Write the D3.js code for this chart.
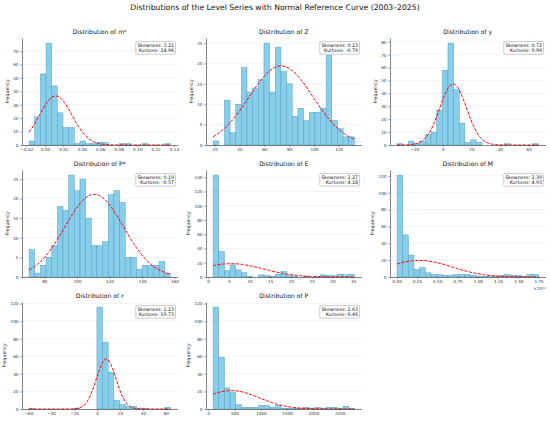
<!DOCTYPE html>
<html>
<head>
<meta charset="utf-8">
<script src="https://cdn.jsdelivr.net/npm/d3@7"></script>
<style>
body { margin: 0; background: #fff; }
text { font-family: "DejaVu Sans", sans-serif; }
</style>
</head>
<body>
<svg id="chart" width="550" height="423"></svg>
<script>
// series shown, in panel order
var seriesNames = ["mᵉ", "Z", "y", "P*", "E", "M", "r", "P"];

// histogram counts (25 bins each)
var countsMe    = [3,21,53,76,44,24,13,13,1,3,1,1,2,2,0,0,1,1,0,0,1,0,0,0,1];
var countsZ     = [1,0,11,3,10,19,13,14,16,25,13,24,18,15,7,9,6,8,8,9,22,6,4,2,2];
var countsY     = [1,0,3,1,3,8,10,27,58,79,43,17,2,4,2,0,0,0,0,1,0,0,0,0,1];
var countsPstar = [7,1,3,5,8,18,17,26,22,25,15,8,8,9,21,22,19,5,5,2,3,3,3,4,1];
var countsE     = [143,36,9,17,10,6,1,0,3,2,1,4,8,2,1,0,1,0,1,3,2,2,4,3,4];
var countsM     = [121,50,26,9,11,5,3,3,2,2,3,3,3,2,1,1,1,1,2,3,2,2,1,3,3];
var countsR     = [1,0,0,0,0,0,0,0,1,0,0,0,116,76,42,10,5,3,3,1,1,0,0,0,2];
var countsP     = [116,59,24,19,5,2,2,2,4,4,2,4,1,1,1,1,2,1,2,1,2,2,1,3,1];

// data min / max of each series (M in units of 1e10)
var dataRange = [[-0.0172, 0.1361], [18.7, 132.6], [-32, 66.8], [70.6, 157.4],
                 [1.2, 35.3], [0.004, 1.748], [-59.2, 64], [91, 2779]];

// normal reference curve: mean, sd, peak height (in counts)
var curveMean = [0.0117, 73.5, 7.2, 110.6, 5.6, 0.28, 8, 440];
var curveSd   = [0.0177, 25.8, 9.3, 18, 7.7, 0.40, 8.5, 530];
var curvePeak = [36.6, 19.4, 47.4, 21.1, 18.7, 19.7, 57.1, 21];

var skewness = ["3.21", "0.23", "0.72", "0.19", "2.27", "2.39", "1.23", "2.63"];
var kurtosis = ["14.96", "-0.79", "9.99", "-0.57", "4.18", "4.93", "19.73", "6.46"];

// tick values
var xTicks = [
  [-0.02, 0, 0.02, 0.04, 0.06, 0.08, 0.10, 0.12, 0.14],
  [20, 40, 60, 80, 100, 120],
  [-20, 0, 20, 40, 60],
  [80, 100, 120, 140, 160],
  [0, 5, 10, 15, 20, 25, 30, 35],
  [0, 0.25, 0.5, 0.75, 1.0, 1.25, 1.5, 1.75],
  [-60, -40, -20, 0, 20, 40, 60],
  [0, 500, 1000, 1500, 2000, 2500]
];
var xTickDecimals = [2, 0, 0, 0, 0, 2, 0, 0];
var yTicks = [
  [0, 10, 20, 30, 40, 50, 60, 70],
  [0, 5, 10, 15, 20, 25],
  [0, 10, 20, 30, 40, 50, 60, 70, 80],
  [0, 5, 10, 15, 20, 25],
  [0, 20, 40, 60, 80, 100, 120, 140],
  [0, 20, 40, 60, 80, 100, 120],
  [0, 20, 40, 60, 80, 100, 120],
  [0, 20, 40, 60, 80, 100, 120]
];
var offsetLabels = ["", "", "", "", "", "×10¹⁰", "", ""];

var allCounts = [countsMe, countsZ, countsY, countsPstar, countsE, countsM, countsR, countsP];

var svg = d3.select("#chart");
var axLeft = [22, 206, 390], axTop = [38, 170, 302];
var axW = 155.5, axH = 107;
var tickFont = 4.2;

svg.append("text")
    .attr("x", 275).attr("y", 9.8)
    .attr("text-anchor", "middle")
    .attr("font-size", 7.7)
    .attr("fill", "#111")
    .text("Distributions of the Level Series with Normal Reference Curve (2003–2025)");

function minusFmt(dec) {
    var f = d3.format("." + dec + "f");
    return function (v) { return f(v).replace("-", "−"); };
}

seriesNames.forEach(function (name, i) {
    var col = i % 3, row = Math.floor(i / 3);
    var counts = allCounts[i];
    var lo = dataRange[i][0], hi = dataRange[i][1], R = hi - lo;
    var bw = R / counts.length;

    var g = svg.append("g").attr("transform", "translate(" + axLeft[col] + "," + axTop[row] + ")");

    var x = d3.scaleLinear().domain([lo - 0.05 * R, hi + 0.05 * R]).range([0, axW]);
    var y = d3.scaleLinear().domain([0, d3.max(counts) * 1.05]).range([axH, 0]);

    // faint horizontal grid
    g.selectAll("line.grid").data(yTicks[i]).enter().append("line")
        .attr("class", "grid")
        .attr("x1", 0).attr("x2", axW)
        .attr("y1", function (d) { return y(d); })
        .attr("y2", function (d) { return y(d); })
        .attr("stroke", "#e4e4e4").attr("stroke-width", 0.5);

    // bars
    g.selectAll("rect.bar").data(counts).enter().append("rect")
        .attr("class", "bar")
        .attr("x", function (d, k) { return x(lo + k * bw); })
        .attr("width", x(lo + bw) - x(lo))
        .attr("y", function (d) { return y(d); })
        .attr("height", function (d) { return axH - y(d); })
        .attr("fill", "#87ceeb")
        .attr("stroke", "#5598bd")
        .attr("stroke-width", 0.45);

    // normal reference curve over the data range
    var pts = d3.range(0, 101).map(function (k) { return lo + R * k / 100; });
    var line = d3.line()
        .x(function (v) { return x(v); })
        .y(function (v) {
            var z = (v - curveMean[i]) / curveSd[i];
            return y(curvePeak[i] * Math.exp(-0.5 * z * z));
        });
    g.append("path").datum(pts)
        .attr("d", line)
        .attr("fill", "none")
        .attr("stroke", "#ff0000")
        .attr("stroke-width", 1)
        .attr("stroke-dasharray", "3.2,1.4");

    // axes
    var xAxis = g.append("g").attr("transform", "translate(0," + axH + ")")
        .call(d3.axisBottom(x).tickValues(xTicks[i]).tickFormat(minusFmt(xTickDecimals[i]))
            .tickSize(1.7).tickSizeOuter(0).tickPadding(1.5));
    var yAxis = g.append("g")
        .call(d3.axisLeft(y).tickValues(yTicks[i]).tickFormat(d3.format("d"))
            .tickSize(1.7).tickSizeOuter(0).tickPadding(1.8));
    [xAxis, yAxis].forEach(function (a) {
        a.attr("font-size", tickFont).attr("font-family", "DejaVu Sans, sans-serif");
        a.selectAll("path.domain").attr("stroke", "#333").attr("stroke-width", 0.6);
        a.selectAll(".tick line").attr("stroke", "#333").attr("stroke-width", 0.5);
        a.selectAll(".tick text").attr("fill", "#333");
    });

    // y label placed left of the widest tick label
    var maxW = 0;
    yAxis.selectAll(".tick text").each(function () {
        maxW = Math.max(maxW, this.getComputedTextLength());
    });
    g.append("text")
        .attr("transform", "translate(" + (-(maxW + 9.5)) + "," + (axH / 2) + ") rotate(-90)")
        .attr("text-anchor", "middle")
        .attr("dominant-baseline", "central")
        .attr("font-size", 4.7)
        .attr("fill", "#222")
        .text("Frequency");

    if (offsetLabels[i]) {
        g.append("text")
            .attr("x", axW).attr("y", axH + 12.5)
            .attr("text-anchor", "end")
            .attr("font-size", tickFont)
            .attr("fill", "#333")
            .text(offsetLabels[i]);
    }

    // panel title
    g.append("text")
        .attr("x", axW / 2).attr("y", -4)
        .attr("text-anchor", "middle")
        .attr("font-size", 6.1)
        .attr("fill", "#111")
        .text("Distribution of " + name);

    // skewness / kurtosis box
    var box = g.append("g");
    var textRight = axW - 3.6;
    var t1 = box.append("text").attr("x", textRight).attr("y", 8.7)
        .attr("text-anchor", "end").attr("font-size", 4.7).attr("fill", "#111")
        .text("Skewness: " + skewness[i]);
    var t2 = box.append("text").attr("x", textRight).attr("y", 14.2)
        .attr("text-anchor", "end").attr("font-size", 4.7).attr("fill", "#111")
        .text("Kurtosis: " + kurtosis[i]);
    var tw = Math.max(t1.node().getComputedTextLength(), t2.node().getComputedTextLength());
    box.insert("rect", "text")
        .attr("x", textRight - tw - 1.6).attr("y", 3.6)
        .attr("width", tw + 3.2).attr("height", 12.6)
        .attr("rx", 1.4)
        .attr("fill", "#fff").attr("fill-opacity", 0.85)
        .attr("stroke", "#999").attr("stroke-width", 0.5);
});
</script>
</body>
</html>
